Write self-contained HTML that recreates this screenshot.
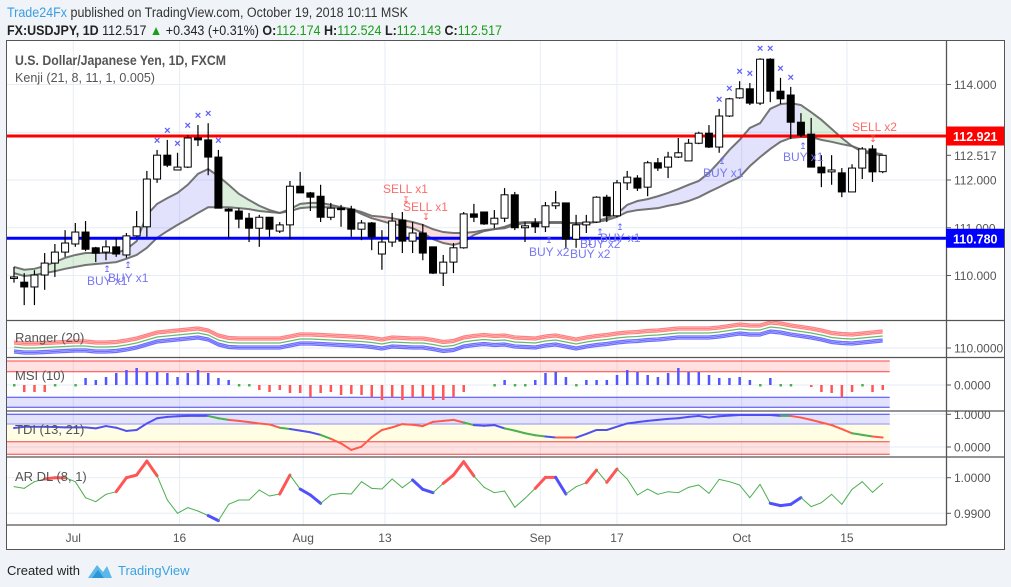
<!DOCTYPE html>
<html><head><meta charset="utf-8">
<style>
html,body{margin:0;padding:0;background:#f0f3f7;}
svg{display:block;font-family:"Liberation Sans",sans-serif;}
</style></head>
<body>
<svg id="chart" width="1011" height="587" viewBox="0 0 1011 587" xmlns="http://www.w3.org/2000/svg">
  <rect x="0" y="0" width="1011" height="587" fill="#f0f3f7"/>
  <text x="7" y="17" font-size="13.5" fill="#333" textLength="401" lengthAdjust="spacingAndGlyphs"><tspan fill="#3a9fe0">Trade24Fx</tspan> published on TradingView.com, October 19, 2018 10:11 MSK</text>
  <text x="7" y="35" font-size="13.5" fill="#222" textLength="495" lengthAdjust="spacingAndGlyphs"><tspan font-weight="bold">FX:USDJPY, 1D</tspan> 112.517 <tspan fill="#1a9e1a">▲</tspan> +0.343 (+0.31%) <tspan font-weight="bold">O:</tspan><tspan fill="#1a9e1a">112.174</tspan> <tspan font-weight="bold">H:</tspan><tspan fill="#1a9e1a">112.524</tspan> <tspan font-weight="bold">L:</tspan><tspan fill="#1a9e1a">112.143</tspan> <tspan font-weight="bold">C:</tspan><tspan fill="#1a9e1a">112.517</tspan></text>
  <rect x="6.5" y="40.5" width="998" height="509" fill="#fff" stroke="#555"/>
  <g id="grid"></g>
  <g id="panels"></g>
  <g id="main"></g>
  <g id="axes"></g>
  <text x="15" y="65" font-size="14" font-weight="bold" fill="#555" textLength="211" lengthAdjust="spacingAndGlyphs">U.S. Dollar/Japanese Yen, 1D, FXCM</text>
  <text x="15" y="82" font-size="13" fill="#555" textLength="140" lengthAdjust="spacingAndGlyphs">Kenji (21, 8, 11, 1, 0.005)</text>
  <text x="15" y="342" font-size="13" fill="#555">Ranger (20)</text>
  <text x="15" y="380" font-size="13" fill="#555">MSI (10)</text>
  <text x="15" y="434" font-size="13" fill="#555">TDI (13, 21)</text>
  <text x="15" y="481" font-size="13" fill="#555">AR DL (8, 1)</text>
  <text x="7" y="575" font-size="13" fill="#222">Created with</text>
  <g>
    <path d="M88 578 L97 565 L103 572 L107 566 L112 578 Z" fill="#5cb8ea"/>
    <path d="M92 578 L98 570 L104 578 Z" fill="#2a96d6"/>
    <text x="118" y="575" font-size="13" fill="#3ba3e0">TradingView</text>
  </g>
</svg>
<script>
const dateLabels=["Jul","16","Aug","13","Sep","17","Oct","15"];
const dateIdx=[5.8,16.2,28.3,36.3,51.5,59,71.2,81.5];
const opens=[109.97,109.86,109.76,110.01,110.26,110.49,110.66,110.91,110.58,110.49,110.60,110.43,110.83,111.02,112.02,112.52,112.21,112.27,112.88,112.84,112.48,111.39,111.35,111.20,110.99,111.22,110.93,111.06,111.87,111.73,111.66,111.22,111.41,111.39,110.97,111.10,110.45,110.70,111.16,110.72,110.89,110.60,110.05,110.28,110.58,111.29,111.33,111.08,111.20,111.69,111.00,111.10,111.02,111.46,111.52,110.76,111.06,111.12,111.64,111.25,111.94,112.04,111.85,112.36,112.27,112.48,112.40,112.77,112.98,112.69,113.34,113.72,113.91,113.61,114.53,113.86,113.78,113.21,112.96,112.27,112.17,112.15,111.75,112.25,112.65,112.174];
const closes=[109.97,109.76,110.01,110.26,110.49,110.68,110.91,110.55,110.47,110.60,110.45,110.83,111.02,112.02,112.52,112.31,112.27,112.88,112.84,112.48,111.41,111.35,111.18,110.99,111.22,110.97,111.06,111.87,111.73,111.64,111.22,111.41,111.39,110.97,111.10,110.81,110.70,111.14,110.72,110.89,110.47,110.05,110.28,110.58,111.29,111.22,111.08,111.20,111.69,111.00,111.04,111.02,111.46,111.52,110.76,111.06,111.12,111.64,111.25,111.94,112.06,111.83,112.36,112.25,112.48,112.57,112.77,112.98,112.69,113.34,113.70,113.91,113.61,114.53,113.86,113.70,113.21,112.94,112.27,112.15,112.21,111.75,112.25,112.65,112.17,112.517];
const highs=[110.18,110.05,110.11,110.47,110.66,110.95,111.10,111.14,110.60,110.74,110.79,110.89,111.35,112.19,112.63,112.84,112.57,112.94,113.15,113.19,112.63,111.41,111.41,111.31,111.27,111.22,111.12,111.98,112.17,111.75,111.90,111.52,111.48,111.46,111.16,111.12,110.95,111.31,111.33,111.12,111.08,110.60,110.43,110.68,111.33,111.50,111.33,111.37,111.83,111.75,111.12,111.20,111.54,111.77,111.52,111.27,111.27,111.66,111.69,112.00,112.19,112.10,112.40,112.46,112.59,112.88,112.86,113.01,113.15,113.49,113.72,114.07,114.03,114.55,114.55,114.14,113.95,113.40,113.30,112.52,112.52,112.25,112.33,112.69,112.73,112.524];
const lows=[109.85,109.38,109.38,109.70,109.97,110.39,110.60,110.51,110.28,110.32,110.39,110.37,110.81,110.81,111.94,112.27,112.21,112.25,112.71,112.10,111.41,110.78,110.99,110.70,110.60,110.81,110.89,110.76,111.73,111.35,111.12,111.16,111.02,110.81,110.74,110.53,110.12,110.60,110.47,110.47,110.32,110.03,109.78,110.05,110.56,111.12,111.06,110.99,111.12,110.95,110.70,110.89,110.91,111.39,110.56,110.58,110.89,111.10,111.12,111.22,111.79,111.77,111.66,112.19,112.04,112.46,112.40,112.75,112.67,112.57,113.32,113.70,113.57,113.57,113.63,113.59,112.86,112.90,112.27,111.85,111.90,111.64,111.75,112.02,111.96,112.143];
const kenjiFast=[110.18,110.12,110.14,110.20,110.28,110.37,110.43,110.47,110.47,110.47,110.47,110.55,110.72,111.27,111.50,111.62,111.73,111.90,112.13,112.23,112.08,111.90,111.71,111.58,111.46,111.37,111.31,111.39,111.50,111.52,111.52,111.48,111.43,111.39,111.29,111.20,111.14,111.08,111.04,110.99,110.89,110.76,110.68,110.64,110.70,110.85,110.93,110.97,111.02,111.10,111.12,111.12,111.12,111.12,111.12,111.08,111.08,111.14,111.20,111.29,111.48,111.56,111.60,111.66,111.73,111.81,111.90,111.98,112.15,112.38,112.63,112.84,113.09,113.19,113.49,113.59,113.61,113.57,113.42,113.26,113.07,112.88,112.71,112.59,112.54,112.52];
const kenjiSlow=[110.05,109.99,110.01,110.05,110.09,110.14,110.18,110.22,110.24,110.26,110.28,110.35,110.43,110.58,110.79,110.93,111.06,111.18,111.31,111.43,111.43,111.43,111.41,111.39,111.35,111.33,111.31,111.35,111.41,111.43,111.43,111.43,111.41,111.39,111.33,111.25,111.23,111.20,111.16,111.12,111.06,110.97,110.91,110.89,110.89,110.91,110.95,110.97,110.99,111.06,111.10,111.10,111.10,111.10,111.10,111.10,111.10,111.12,111.16,111.23,111.33,111.37,111.39,111.41,111.46,111.50,111.56,111.64,111.75,111.85,111.96,112.06,112.29,112.48,112.65,112.80,112.88,112.90,112.90,112.84,112.80,112.75,112.71,112.63,112.57,112.54];
const kenjiState="gggggggg"+"bbbbbbbbbbbb"+"gggggggggggggg"+"ppppppppppppp"+"gggggggggggg"+"bbbbbbbbbbbbbbbbbb"+"ggggggg"+"pp";
const crossIdx=[14,15,16,17,18,19,20,69,70,71,72,73,74,75,76];
const resistance=112.921, support=110.780, lastPrice=112.517;
const priceTicks=[110,111,112,113,114];
const priceTickLabels=["110.000","111.000","112.000","","114.000"];
const ranger=[110.10,110.00,110.00,110.05,110.10,110.15,110.20,110.20,110.10,110.10,110.15,110.30,110.50,110.80,111.10,111.20,111.30,111.40,111.50,111.30,110.80,110.55,110.50,110.50,110.50,110.50,110.50,110.70,110.90,110.90,110.85,110.80,110.75,110.70,110.65,110.55,110.40,110.60,110.55,110.50,110.50,110.35,110.15,110.25,110.60,110.75,110.85,110.75,110.80,110.60,110.55,110.50,110.70,110.80,110.60,110.40,110.60,110.75,110.85,111.00,111.10,111.15,111.25,111.30,111.40,111.50,111.50,111.50,111.50,111.60,111.75,111.90,111.80,111.80,112.10,112.00,111.80,111.65,111.50,111.30,111.05,110.95,110.90,111.00,111.10,111.20];
const msi=[0,-0.07,-0.07,-0.07,0,null,0,0.07,0.05,0.08,0.12,0.15,0.17,0.13,0.13,0.12,0.08,0.12,0.15,0.12,0.07,0.05,0,0,-0.05,-0.07,-0.05,-0.08,-0.08,-0.12,-0.08,-0.07,-0.10,-0.09,-0.10,-0.12,-0.15,-0.12,-0.15,-0.12,-0.12,-0.15,-0.15,-0.12,-0.07,null,null,0,0.05,0,0,0.05,0.12,0.13,0.08,0,0.05,0.05,0.05,0.10,0.15,0.13,0.10,0.08,0.12,0.17,0.13,0.13,0.10,0.07,0.07,0.08,0.05,0,0.07,0,0,null,-0.02,-0.07,-0.08,-0.12,-0.07,0,-0.07,-0.05];
const tdi=[0.58,0.62,0.62,0.62,0.61,0.60,0.60,0.60,0.57,0.64,0.59,0.49,0.52,0.72,0.88,0.92,0.94,0.95,0.95,0.95,0.88,0.83,0.80,0.76,0.72,0.69,0.59,0.55,0.50,0.45,0.37,0.25,0.11,-0.09,0.01,0.30,0.52,0.60,0.70,0.68,0.64,0.77,0.80,0.83,0.75,0.67,0.65,0.67,0.57,0.50,0.42,0.36,0.32,0.29,0.29,0.29,0.40,0.52,0.52,0.62,0.72,0.76,0.80,0.83,0.86,0.88,0.92,0.95,0.90,0.94,0.96,0.98,0.98,0.98,0.98,0.95,0.95,0.90,0.83,0.75,0.67,0.55,0.42,0.37,0.32,0.29];
const tdiRuns=[[0,"b"],[19,"g"],[21,"r"],[26,"g"],[27,"b"],[30,"g"],[31,"r"],[44,"g"],[45,"b"],[48,"g"],[52,"b"],[53,"r"],[55,"b"],[75,"g"],[76,"r"],[82,"g"],[84,"r"]];
const ardl=[0.99748,0.99701,0.99888,0.99963,1.00000,1.00000,0.99888,0.99439,0.99327,0.99533,0.99607,1.00000,1.00075,1.00467,1.00056,0.99374,0.99000,0.99159,0.99065,0.98935,0.98794,0.99252,0.99374,0.99374,0.99654,0.99486,0.99542,1.00075,0.99682,0.99514,0.99280,0.99514,0.99560,0.99542,0.99888,0.99701,0.99682,0.99963,0.99720,0.99935,0.99673,0.99579,0.99841,1.00075,1.00449,1.00047,0.99729,0.99579,0.99626,0.99168,0.99421,0.99701,1.00009,1.00009,0.99542,0.99748,0.99860,1.00215,0.99869,1.00243,0.99963,0.99514,0.99682,0.99533,0.99607,0.99579,0.99729,0.99794,0.99560,0.99953,0.99888,0.99794,0.99439,0.99813,0.99280,0.99215,0.99252,0.99439,0.99187,0.99299,0.99533,0.99252,0.99673,0.99888,0.99589,0.99841];
const ardlRed=[[3,5],[10,14],[26,27],[42,45],[51,53],[56,57],[58,59]];
const ardlBlue=[[19,20],[28,30],[39,41],[53,54],[74,77]];

const NS="http://www.w3.org/2000/svg";
function mk(parent,tag,attrs){const e=document.createElementNS(NS,tag);for(const k in attrs)e.setAttribute(k,attrs[k]);parent.appendChild(e);return e;}
const X=i=>14+10.22*i;
const Y=p=>180-(p-112)*47.75;
const YR=v=>348-(v-110)*10;
const YM=v=>385-v*100;
const YT=v=>447-v*32.7;
const YA=v=>477.7+(1-v)*3560;
const grid=document.getElementById('grid'),main=document.getElementById('main'),panels=document.getElementById('panels'),axes=document.getElementById('axes');

// grid
dateIdx.forEach((d,k)=>{const l=mk(grid,'line',{x1:X(d),x2:X(d),y1:41,y2:525,stroke:'#e6edf4','stroke-width':1});


const t=mk(axes,'text',{x:X(d),y:542,'font-size':12,fill:'#555','text-anchor':'middle'});t.textContent=dateLabels[k];

});
priceTicks.forEach(p=>{const l=mk(grid,'line',{x1:7,x2:946,y1:Y(p),y2:Y(p),stroke:'#e6edf4'});

});
[[348],[385],[414.3],[447],[477.7],[513.3]].forEach(a=>{const l=mk(grid,'line',{x1:7,x2:946,y1:a[0],y2:a[0],stroke:'#e6edf4'});

});

// kenji fill
const kc={g:'rgba(76,175,80,0.2)',b:'rgba(110,110,240,0.2)',p:'rgba(240,80,80,0.2)'};
for(let i=0;i<kenjiFast.length-1;i++){
  const pg=mk(main,'polygon',{points:`${X(i)},${Y(kenjiFast[i])} ${X(i+1)},${Y(kenjiFast[i+1])} ${X(i+1)},${Y(kenjiSlow[i+1])} ${X(i)},${Y(kenjiSlow[i])}`,fill:kc[kenjiState[i]]});
  
  
}
[kenjiFast,kenjiSlow].forEach((arr,k)=>{const pl=mk(main,'polyline',{points:arr.map((v,i)=>X(i)+','+Y(v)).join(' '),fill:'none',stroke:'#666','stroke-width':2,'stroke-opacity':0.9});

});

// levels
const rl=mk(main,'line',{x1:7,x2:946,y1:Y(resistance),y2:Y(resistance),stroke:'#f00','stroke-width':3});


const bl=mk(main,'line',{x1:7,x2:946,y1:Y(support),y2:Y(support),stroke:'#00f','stroke-width':3});



// candles
for(let i=0;i<opens.length;i++){
  const g=mk(main,'g',{});
  
  
  const x=X(i),up=closes[i]>=opens[i];
  mk(g,'line',{x1:x,x2:x,y1:Y(highs[i]),y2:Y(lows[i]),stroke:'#000','stroke-width':1.2});
  const top=Y(Math.max(opens[i],closes[i])),bot=Y(Math.min(opens[i],closes[i]));
  mk(g,'rect',{x:x-3.5,y:top,width:7,height:Math.max(bot-top,1.5),fill:up?'#fff':'#000',stroke:'#000','stroke-width':1});
}
crossIdx.forEach(i=>{const t=mk(main,'text',{x:X(i),y:Y(highs[i])-6,'font-size':11,'font-weight':'bold',fill:'#6060ff','text-anchor':'middle'});t.textContent='×';

});

// signal labels
const sigs=[["BUY x1",87,285,"b"],["BUY x1",108,282,"b"],["SELL x1",383,193,"s"],["SELL x1",403,211,"s"],["BUY x2",529,256,"b"],["BUY x2",570,258,"b"],["BUY x2",580,248,"b"],["BUY x1",600,242,"b"],["BUY x1",703,177,"b"],["BUY x1",783,161,"b"],["SELL x2",852,131,"s"]];
sigs.forEach(s=>{const t=mk(main,'text',{x:s[1],y:s[2],'font-size':12,fill:s[3]=='b'?'#7777f2':'#ff6b6b'});t.textContent=s[0];

});
const arrows=[[107,272,"b"],[128,268,"b"],[406,203,"s"],[426,220,"s"],[549,243,"b"],[590,245,"b"],[600,235,"b"],[620,230,"b"],[722,164,"b"],[803,149,"b"],[873,142,"s"]];
arrows.forEach(a=>{const t=mk(main,'text',{x:a[0],y:a[1],'font-size':9,fill:a[2]=='b'?'#6060f0':'#ff5050','text-anchor':'middle'});t.textContent=a[2]=='b'?'↥':'↧';

});

// ranger
[[-6,'#ff6b6b'],[-4.5,'#ff6b6b'],[-3,'#ff6b6b'],[0,'#4caf50'],[3,'#5555ff'],[4.5,'#5555ff'],[6,'#5555ff']].forEach((o,k)=>{
  const pl=mk(panels,'polyline',{points:ranger.map((v,i)=>X(i)+','+(YR(v)+o[0])).join(' '),fill:'none',stroke:o[1],'stroke-width':1.2,'stroke-opacity':0.85});
  
  
});

// MSI bands
const bandR=X(85)+7;
[[361,371.7,'rgba(255,120,120,0.22)','#f44'],[397.3,407.3,'rgba(110,110,240,0.2)','#44f']].forEach(b=>{
  const r=mk(panels,'rect',{x:7,y:b[0],width:bandR-7,height:b[1]-b[0],fill:b[2]});
  
  
  mk(panels,'line',{x1:7,x2:bandR,y1:b[0],y2:b[0],stroke:b[3]});mk(panels,'line',{x1:7,x2:bandR,y1:b[1],y2:b[1],stroke:b[3]});
});
msi.forEach((v,i)=>{if(v===null)return;
  if(v===0){const d=mk(panels,'rect',{x:X(i)-1,y:384,width:2.5,height:2.5,fill:'#4caf50'});
    
    return;}
  const r=mk(panels,'rect',{x:X(i)-1.2,y:Math.min(YM(v),385),width:2.5,height:Math.abs(YM(v)-385),fill:v>0?'#5555ff':'#ff5555'});
  
  
});

// TDI bands
[[414.3,424.3,'rgba(110,110,240,0.2)','#44f'],[424.3,441.7,'#fffde4',null],[441.7,454.3,'rgba(255,120,120,0.22)','#e44']].forEach(b=>{
  const r=mk(panels,'rect',{x:7,y:b[0],width:bandR-7,height:b[1]-b[0],fill:b[2]});
  
  
  if(b[3]){mk(panels,'line',{x1:7,x2:bandR,y1:b[0],y2:b[0],stroke:b[3]});mk(panels,'line',{x1:7,x2:bandR,y1:b[1],y2:b[1],stroke:b[3]});}
});
const tcol={b:'#5050f0',g:'#4caf50',r:'#ff5a4a'};
for(let i=0;i<tdi.length-1;i++){
  let c='b';tdiRuns.forEach(r=>{if(i>=r[0])c=r[1];});
  const l=mk(panels,'line',{x1:X(i),y1:YT(tdi[i]),x2:X(i+1),y2:YT(tdi[i+1]),stroke:tcol[c],'stroke-width':2,'stroke-linecap':'round'});
  
  
}

// AR DL
for(let i=0;i<ardl.length-1;i++){
  let c='#4caf50',w=1;
  ardlRed.forEach(r=>{if(i>=r[0]&&i<r[1]){c='#ff5555';w=3;}});
  ardlBlue.forEach(r=>{if(i>=r[0]&&i<r[1]){c='#5050ff';w=3;}});
  const l=mk(panels,'line',{x1:X(i),y1:YA(ardl[i]),x2:X(i+1),y2:YA(ardl[i+1]),stroke:c,'stroke-width':w,'stroke-linecap':'round'});
  
  
}

// separators & axes
[320.5,357.5,411,457,525].forEach(y=>{const l=mk(axes,'line',{x1:6.5,x2:y==525?946.5:1004.5,y1:y,y2:y,stroke:'#555','stroke-width':1.3});

});
const va=mk(axes,'line',{x1:946.5,x2:946.5,y1:41,y2:525,stroke:'#555','stroke-width':1.3});


priceTicks.forEach((p,k)=>{if(!priceTickLabels[k])return;
  mk(axes,'line',{x1:946,x2:951,y1:Y(p),y2:Y(p),stroke:'#555'});
  const t=mk(axes,'text',{x:954,y:Y(p)+4.5,'font-size':12,fill:'#555'});t.textContent=priceTickLabels[k];
  
  });
const sideLabels=[["110.0000",348],["0.0000",385],["1.0000",414.3],["0.0000",447],["1.0000",477.7],["0.9900",513.3]];
sideLabels.forEach(s=>{mk(axes,'line',{x1:946,x2:951,y1:s[1],y2:s[1],stroke:'#555'});
  const t=mk(axes,'text',{x:954,y:s[1]+4.5,'font-size':12,fill:'#555'});t.textContent=s[0];
  
  });
mk(axes,'line',{x1:946,x2:951,y1:Y(lastPrice),y2:Y(lastPrice),stroke:'#555'});
const lp=mk(axes,'text',{x:954,y:Y(lastPrice)+4.5,'font-size':12,fill:'#555'});lp.textContent=lastPrice.toFixed(3);


[[resistance,'#f00'],[support,'#00f']].forEach(a=>{
  const r=mk(axes,'rect',{x:946,y:Y(a[0])-9.5,width:58,height:19,fill:a[1]});
  
  
  const t=mk(axes,'text',{x:953,y:Y(a[0])+5,'font-size':12.5,'font-weight':'bold',fill:'#fff'});t.textContent=a[0].toFixed(3);
  
  
});
</script>
</body></html>
